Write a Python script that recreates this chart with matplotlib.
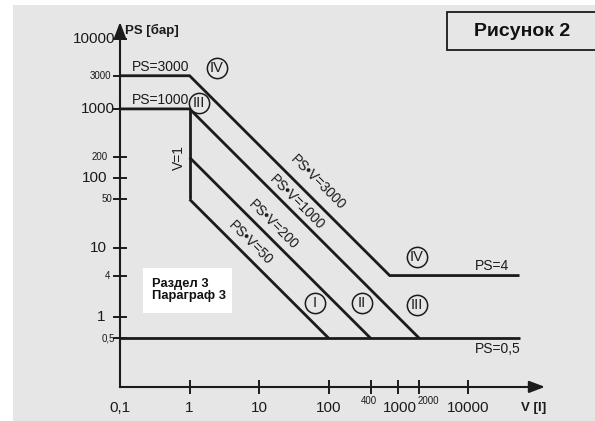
import matplotlib
matplotlib.use("Agg")
import matplotlib.pyplot as plt
from matplotlib.patches import Rectangle
from matplotlib.ticker import NullLocator

# ---- chart data (V in litres, PS in bar) ----
origin = 0.1                      # both axes start at 0,1
ps_caps = [3000, 1000]            # upper pressure caps for small vessels
v_knee = 1                        # V = 1 l boundary
pv_limits = [3000, 1000, 200, 50] # PS*V constant boundaries
ps_floor = 0.5                    # lower pressure limit
ps_low_iv = 4                     # pressure plateau of category IV
v_end = 55000                     # right end of the horizontal limits
v_knee_low = 50                   # lower end of the V = 1 segment (PS)

x_ticks = [1, 10, 100, 400, 1000, 2000, 10000]
x_tick_labels = ["1", "10", "100", "400", "1000", "2000", "10000"]
x_small = {400, 2000}
y_ticks = [10000, 3000, 1000, 200, 100, 50, 10, 4, 1, 0.5]
y_tick_labels = ["10000", "3000", "1000", "200", "100", "50", "10", "4", "1", "0,5"]
y_small = {3000, 200, 50, 4, 0.5}

# ---- styling ----
W, H = 595, 421
BG = "#e6e6e6"
INK = "#1b1b1b"
FONT = ["Liberation Sans", "DejaVu Sans"]
LW = 2.0

fig = plt.figure(figsize=(W / 100, H / 100), dpi=100, facecolor="white")
fig.add_artist(Rectangle((13 / W, 0), 1, 1 - 5 / H, transform=fig.transFigure,
                         facecolor=BG, edgecolor="none", zorder=-5))

ax = fig.add_axes([0, 0, 1, 1])
ax.set_xscale("log")
ax.set_yscale("log")
ax.set_xlim(10 ** -2.7241, 10 ** 5.8247)
ax.set_ylim(10 ** -1.4906, 10 ** 4.5669)
ax.patch.set_visible(False)

# axes as arrows through the origin
x_tip, y_tip = 10 ** 5.106, 10 ** 4.25
for side in ("top", "right"):
    ax.spines[side].set_visible(False)
ax.spines["left"].set_position(("data", origin))
ax.spines["bottom"].set_position(("data", origin))
ax.spines["left"].set_bounds(origin, 10 ** 4.15)
ax.spines["bottom"].set_bounds(origin, 10 ** 5.0)
for side in ("left", "bottom"):
    ax.spines[side].set_linewidth(1.5)
    ax.spines[side].set_color(INK)
arrow = dict(arrowstyle="-|>,head_length=0.95,head_width=0.36", color=INK,
             lw=1.5, shrinkA=0, shrinkB=0)
ax.annotate("", xy=(x_tip, origin), xytext=(10 ** 4.9, origin), arrowprops=arrow)
ax.annotate("", xy=(origin, y_tip), xytext=(origin, 10 ** 4.0), arrowprops=arrow)

ax.set_xticks(x_ticks)
ax.set_yticks(y_ticks)
ax.xaxis.set_minor_locator(NullLocator())
ax.yaxis.set_minor_locator(NullLocator())
ax.tick_params(direction="inout", length=9.4, width=1.4, color=INK,
               labelbottom=False, labelleft=False)

# tick labels
x_offsets = [0, 0, 0, -2, 1, 9, 0]
for v, lab, dx in zip(x_ticks, x_tick_labels, x_offsets):
    small = v in x_small
    ax.annotate(lab, xy=(v, origin), xytext=(dx, -14 if small else -21),
                textcoords="offset pixels", ha="center", va="center",
                fontsize=7 if small else 11, family=FONT, color=INK)
ax.annotate("0,1", xy=(origin, origin), xytext=(0, -21), textcoords="offset pixels",
            ha="center", va="center", fontsize=11, family=FONT, color=INK)
y_offsets = [-5, -9, -5, -12, -13, -8, -13, -10, -15, -5]
for ps, lab, dx in zip(y_ticks, y_tick_labels, y_offsets):
    small = ps in y_small
    ax.annotate(lab, xy=(origin, ps), xytext=(dx, 0), textcoords="offset pixels",
                ha="right", va="center", fontsize=7 if small else 11,
                family=FONT, color=INK)

# ---- boundary lines ----
line_kw = dict(color=INK, lw=LW, solid_capstyle="butt", solid_joinstyle="miter", zorder=3)
cap_iv, cap_iii = ps_caps
pv_iv, pv_iii, pv_ii, pv_i = pv_limits
# category IV boundary
ax.plot([origin, v_knee, pv_iv / ps_low_iv, v_end],
        [cap_iv, cap_iv, ps_low_iv, ps_low_iv], **line_kw)
# category III boundary
ax.plot([origin, v_knee, pv_iii / ps_floor],
        [cap_iii, cap_iii, ps_floor], **line_kw)
# V = 1 boundary
ax.plot([v_knee, v_knee], [cap_iii, v_knee_low], **line_kw)
# PS*V = 200 and PS*V = 50
ax.plot([v_knee, pv_ii / ps_floor], [pv_ii / v_knee, ps_floor], **line_kw)
ax.plot([v_knee, pv_i / ps_floor], [pv_i / v_knee, ps_floor], **line_kw)
# PS = 0,5
ax.plot([origin, v_end], [ps_floor, ps_floor], **line_kw)

# ---- line labels ----
txt = dict(family=FONT, color=INK, fontsize=10)
ax.annotate("PS=3000", xy=(0.15, cap_iv), xytext=(0, 2), textcoords="offset pixels",
            ha="left", va="bottom", **txt)
ax.annotate("PS=1000", xy=(0.15, cap_iii), xytext=(0, 2), textcoords="offset pixels",
            ha="left", va="bottom", **txt)
ax.annotate("PS=4", xy=(12600, ps_low_iv), xytext=(0, 3), textcoords="offset pixels",
            ha="left", va="bottom", **txt)
ax.annotate("PS=0,5", xy=(12600, ps_floor), xytext=(0, -4), textcoords="offset pixels",
            ha="left", va="top", **txt)
ax.text(0.70, 197, "V=1", rotation=90, ha="center", va="center", **txt)

diag_pos = {3000: (70, 86.5), 1000: (35, 45.7), 200: (15.8, 21.3), 50: (7.4, 11.7)}
for pv in pv_limits:
    x, y = diag_pos[pv]
    ax.text(x, y, f"PS\u2022V={pv}", rotation=-45, rotation_mode="anchor",
            ha="center", va="center", **txt)

# category markers
cats = [("IV", 2.48, 3875), ("III", 1.36, 1217), ("IV", 1850, 7.45),
        ("I", 63, 1.62), ("II", 300, 1.62), ("III", 1850, 1.51)]
for name, x, y in cats:
    ax.plot([x], [y], marker="o", ms=14.6, mfc=BG, mec=INK, mew=1.1, zorder=5)
    ax.text(x, y, name, ha="center", va="center", fontsize=10.5, family=FONT,
            color=INK, zorder=6)

# ---- captions ----
fig.text(125 / W, 1 - 30 / H, "PS [бар]", ha="left", va="center",
         fontsize=9.5, fontweight="bold", family=FONT, color=INK)
fig.text(534 / W, 1 - 408 / H, "V [l]", ha="center", va="center",
         fontsize=9.5, fontweight="bold", family=FONT, color=INK)

fig.add_artist(Rectangle((447 / W, 1 - 50 / H), 160 / W, 38 / H, transform=fig.transFigure,
                         facecolor=BG, edgecolor=INK, lw=1.3, zorder=2))
fig.text(522 / W, 1 - 31 / H, "Рисунок 2", ha="center", va="center",
         fontsize=14, fontweight="bold", family=FONT, color="#111111", zorder=3)

fig.add_artist(Rectangle((143 / W, 1 - 313 / H), 89 / W, 45 / H, transform=fig.transFigure,
                         facecolor="white", edgecolor="none", zorder=2))
fig.text(152 / W, 1 - 290 / H, "Раздел 3\nПараграф 3", ha="left", va="center",
         fontsize=9.3, fontweight="bold", family=FONT, color="#111111",
         linespacing=1.1, zorder=3)

fig.savefig("out.png", dpi=100, facecolor="white")
